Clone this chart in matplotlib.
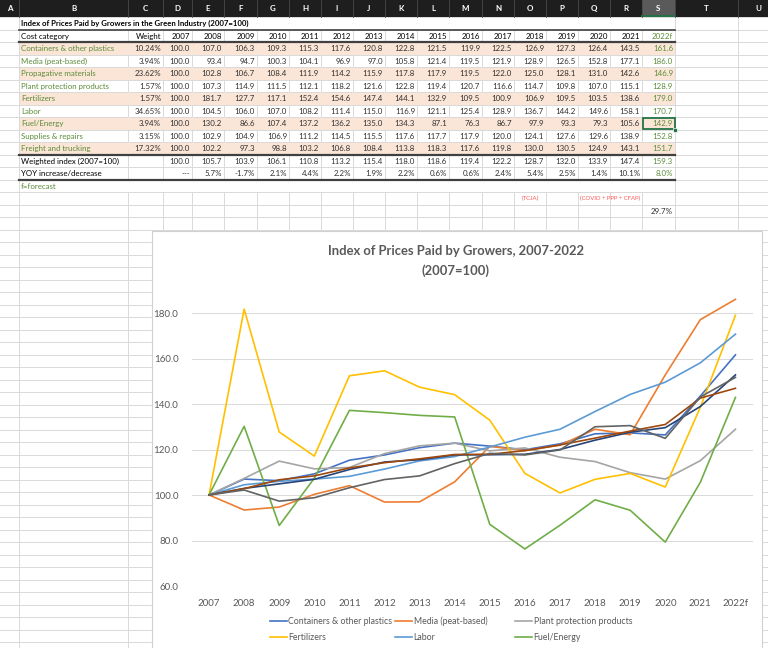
import matplotlib
matplotlib.use('Agg')
import matplotlib.pyplot as plt
from matplotlib.patches import Rectangle
from matplotlib.lines import Line2D

plt.rcParams['font.family'] = ['Lato', 'DejaVu Sans']

# ---------------- data ----------------
years = ['2007', '2008', '2009', '2010', '2011', '2012', '2013', '2014', '2015',
         '2016', '2017', '2018', '2019', '2020', '2021', '2022f']
categories = ['Containers & other plastics', 'Media (peat-based)', 'Propagative materials',
              'Plant protection products', 'Fertilizers', 'Labor', 'Fuel/Energy',
              'Supplies & repairs', 'Freight and trucking']
weights = ['10.24%', '3.94%', '23.62%', '1.57%', '1.57%', '34.65%', '3.94%', '3.15%', '17.32%']
containers = [100.0, 107.0, 106.3, 109.3, 115.3, 117.6, 120.8, 122.8, 121.5, 119.9, 122.5, 126.9, 127.3, 126.4, 143.5, 161.6]
media = [100.0, 93.4, 94.7, 100.3, 104.1, 96.9, 97.0, 105.8, 121.4, 119.5, 121.9, 128.9, 126.5, 152.8, 177.1, 186.0]
propagative = [100.0, 102.8, 106.7, 108.4, 111.9, 114.2, 115.9, 117.8, 117.9, 119.5, 122.0, 125.0, 128.1, 131.0, 142.6, 146.9]
plant_protection = [100.0, 107.3, 114.9, 111.5, 112.1, 118.2, 121.6, 122.8, 119.4, 120.7, 116.6, 114.7, 109.8, 107.0, 115.1, 128.9]
fertilizers = [100.0, 181.7, 127.7, 117.1, 152.4, 154.6, 147.4, 144.1, 132.9, 109.5, 100.9, 106.9, 109.5, 103.5, 138.6, 179.0]
labor = [100.0, 104.5, 106.0, 107.0, 108.2, 111.4, 115.0, 116.9, 121.1, 125.4, 128.9, 136.7, 144.2, 149.6, 158.1, 170.7]
fuel = [100.0, 130.2, 86.6, 107.4, 137.2, 136.2, 135.0, 134.3, 87.1, 76.3, 86.7, 97.9, 93.3, 79.3, 105.6, 142.9]
supplies = [100.0, 102.9, 104.9, 106.9, 111.2, 114.5, 115.5, 117.6, 117.7, 117.9, 120.0, 124.1, 127.6, 129.6, 138.9, 152.8]
freight = [100.0, 102.2, 97.3, 98.8, 103.2, 106.8, 108.4, 113.8, 118.3, 117.6, 119.8, 130.0, 130.5, 124.9, 143.1, 151.7]
weighted = [100.0, 105.7, 103.9, 106.1, 110.8, 113.2, 115.4, 118.0, 118.6, 119.4, 122.2, 128.7, 132.0, 133.9, 147.4, 159.3]
yoy = ['---', '5.7%', '-1.7%', '2.1%', '4.4%', '2.2%', '1.9%', '2.2%', '0.6%', '0.6%', '2.4%', '5.4%', '2.5%', '1.4%', '10.1%', '8.0%']
table_rows = [containers, media, propagative, plant_protection, fertilizers, labor, fuel, supplies, freight]

chart_series = [('Containers & other plastics', containers, '#4472C4'),
                ('Media (peat-based)', media, '#ED7D31'),
                ('Plant protection products', plant_protection, '#A5A5A5'),
                ('Fertilizers', fertilizers, '#FFC000'),
                ('Labor', labor, '#5B9BD5'),
                ('Fuel/Energy', fuel, '#70AD47'),
                ('Supplies & repairs', supplies, '#264478'),
                ('Propagative materials', propagative, '#9E480E'),
                ('Freight and trucking', freight, '#636363')]
legend_count = 6
yticks = [60, 80, 100, 120, 140, 160, 180]

# ---------------- layout ----------------
W, H = 768, 648
fig = plt.figure(figsize=(7.68, 6.48), dpi=100)
bg = fig.add_axes([0, 0, 1, 1])
bg.set_xlim(0, W)
bg.set_ylim(H, 0)
bg.axis('off')

col_letters = list('ABCDEFGHIJKLMNOPQRSTU')
edges = [0, 19, 128, 163, 192, 224, 257, 289, 321, 353, 385, 417, 449, 482, 514,
         546, 578, 610, 642, 675, 738, 800]
HDR = 16.5
ROW0 = 17.25
RH = 12.5
NROWS = 52
GRID = '#d9d9d9'
GREEN_TXT = '#5b8c3a'
DARK = '#303030'
SHADE = '#FBE5D6'
FS = 5.7

def ry(r):
    return ROW0 + r * RH

# shading
for r in (2, 4, 6, 8, 10):
    bg.add_patch(Rectangle((edges[1], ry(r)), edges[19] - edges[1], RH, fc=SHADE, ec='none', zorder=1))

# horizontal grid
for k in range(NROWS):
    bg.plot([0, W], [ry(k), ry(k)], color=GRID, lw=0.7, zorder=2)
# vertical grid
for r in range(NROWS):
    for i, e in enumerate(edges[1:-1], start=1):
        if r in (0, 13) and 1 < i < 19:
            continue
        col = '#f5e6dc' if (r in (2, 4, 6, 8, 10) and 1 <= i <= 19) else GRID
        if r in (2, 4, 6, 8, 10) and i in (1, 19):
            col = GRID
        bg.plot([e, e], [ry(r), ry(r + 1)], color=col, lw=0.7, zorder=2)

# table borders
bg.plot([edges[1], edges[19]], [ry(1), ry(1)], color='#404040', lw=1.2, zorder=3)
for yy in (ry(2) - 0.3, ry(11), ry(13)):
    bg.plot([edges[1], edges[19]], [yy, yy], color='#404040', lw=1.6, zorder=3)

# column header bar
bg.add_patch(Rectangle((0, 0), W, HDR, fc='#1e1e1e', ec='none', zorder=4))
bg.add_patch(Rectangle((edges[18], 0), edges[19] - edges[18], HDR, fc='#5a5a5a', ec='none', zorder=4))
bg.plot([edges[18], edges[19]], [HDR - 0.6, HDR - 0.6], color='#217346', lw=1.4, zorder=5)
for e in edges[1:-1]:
    bg.plot([e, e], [0, HDR], color='#4a4a4a', lw=0.6, zorder=5)
for i, L in enumerate(col_letters):
    cx = (edges[i] + min(edges[i + 1], 778)) / 2
    bg.text(cx, HDR / 2 + 0.5, L, color='white', fontsize=5.8, fontweight='bold',
            ha='center', va='center', zorder=6)

def cell_text(col, r, s, align='right', color=DARK, weight='normal', fs=FS):
    yc = ry(r) + RH / 2 + 0.3
    if align == 'right':
        bg.text(edges[col + 1] - 2, yc, s, ha='right', va='center', fontsize=fs, color=color,
                fontweight=weight, zorder=6)
    elif align == 'left':
        bg.text(edges[col] + 2, yc, s, ha='left', va='center', fontsize=fs, color=color,
                fontweight=weight, zorder=6)
    else:
        bg.text((edges[col] + edges[col + 1]) / 2, yc, s, ha='center', va='center', fontsize=fs,
                color=color, fontweight=weight, zorder=6)

# title row
cell_text(1, 0, 'Index of Prices Paid by Growers in the Green Industry (2007=100)', align='left',
          color='black', weight='bold', fs=5.6)
# header row
cell_text(1, 1, 'Cost category', align='left', color='black')
cell_text(2, 1, 'Weight', color='black')
for j, yr in enumerate(years):
    cell_text(3 + j, 1, yr, color=GREEN_TXT if yr.endswith('f') else 'black')
# data rows
for i, (name, w, vals) in enumerate(zip(categories, weights, table_rows)):
    r = 2 + i
    cell_text(1, r, name, align='left', color=GREEN_TXT)
    cell_text(2, r, w)
    for j, v in enumerate(vals):
        cell_text(3 + j, r, f'{v:.1f}', color=GREEN_TXT if j == len(vals) - 1 else DARK)
cell_text(1, 11, 'Weighted index (2007=100)', align='left', color='black')
for j, v in enumerate(weighted):
    cell_text(3 + j, 11, f'{v:.1f}', color=GREEN_TXT if j == len(weighted) - 1 else DARK)
cell_text(1, 12, 'YOY increase/decrease', align='left', color='black')
for j, v in enumerate(yoy):
    cell_text(3 + j, 12, v, color=GREEN_TXT if j == len(yoy) - 1 else DARK)
cell_text(1, 13, 'f=forecast', align='left', color=GREEN_TXT)
cell_text(14, 14, '(TCJA)', align='center', color='#ff5a5a', fs=4.3)
bg.text(edges[16] + 1.5, ry(14) + RH / 2 + 0.3, '(COVID + PPP + CFAP)', ha='left', va='center',
        fontsize=4.3, color='#ff5a5a', zorder=6)
cell_text(18, 15, '29.7%')

# selected cell
bg.add_patch(Rectangle((edges[18] + 0.5, ry(8) + 0.5), edges[19] - edges[18] - 1, RH - 1,
                       fc='none', ec='#217346', lw=1.3, zorder=7))
bg.add_patch(Rectangle((edges[19] - 2, ry(9) - 2), 4, 4, fc='#217346', ec='white', lw=0.5, zorder=8))

# chart area
bg.add_patch(Rectangle((152, 231), 610, 440, fc='white', ec='#d0d0d0', lw=0.8, zorder=9))

# ---------------- chart ----------------
pl, pr, pt, pb = 191.5, 753, 290.25, 586
ax = fig.add_axes([pl / W, 1 - pb / H, (pr - pl) / W, (pb - pt) / H])
ax.set_facecolor('none')
x = list(range(len(years)))
for name, vals, color in chart_series:
    ax.plot(x, vals, color=color, lw=1.2, solid_joinstyle='round', zorder=3)
ax.set_xlim(-0.5, len(years) - 0.5)
ax.set_ylim(60, 190)
ax.set_yticks(yticks)
ax.set_yticklabels([f'{v:.1f}' for v in yticks])
ax.set_xticks(x)
ax.set_xticklabels(years)
ax.tick_params(length=0, labelsize=7, labelcolor='#595959')
ax.tick_params(axis='y', pad=9.5)
ax.tick_params(axis='x', pad=9)
ax.grid(axis='y', color='#d9d9d9', lw=0.7)
ax.set_axisbelow(True)
for s in ax.spines.values():
    s.set_visible(False)

fig.text(456 / W, 1 - 251 / H, 'Index of Prices Paid by Growers, 2007-2022', ha='center', va='center',
         fontsize=9.4, fontweight='bold', color='#595959')
fig.text(456 / W, 1 - 271 / H, '(2007=100)', ha='center', va='center',
         fontsize=9.4, fontweight='bold', color='#595959')

# legend (first entries visible)
lx = [270, 395, 515]
ly = [621, 637]
for k, (name, vals, color) in enumerate(chart_series[:legend_count]):
    cx, cy = lx[k % 3], ly[k // 3]
    fig.add_artist(Line2D([cx / W, (cx + 17) / W], [1 - cy / H, 1 - cy / H], color=color, lw=1.2,
                          transform=fig.transFigure))
    fig.text((cx + 18.5) / W, 1 - cy / H, name, ha='left', va='center', fontsize=6.3, color='#595959')

fig.savefig('out.png', dpi=100)
